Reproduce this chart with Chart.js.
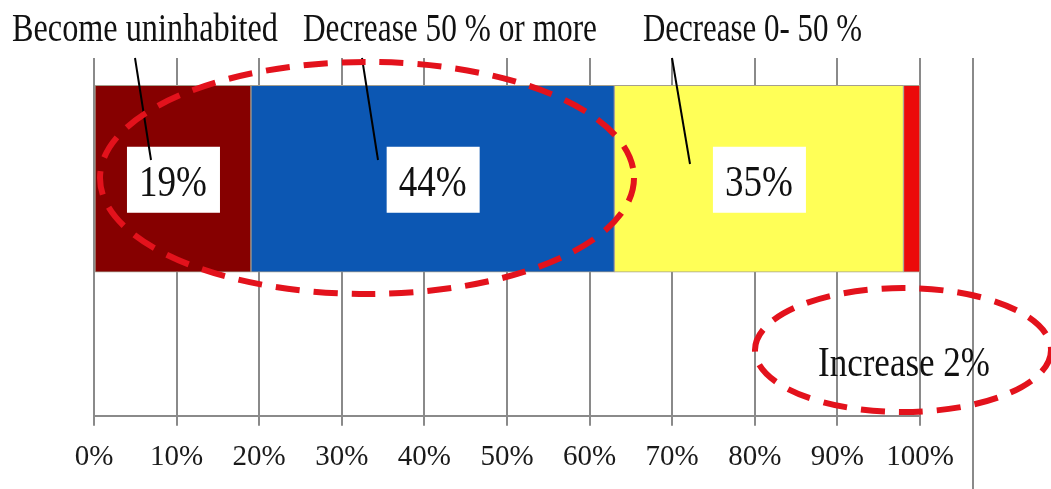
<!DOCTYPE html>
<html>
<head>
<meta charset="utf-8">
<script src="https://cdn.jsdelivr.net/npm/chart.js@4.4.1/dist/chart.umd.min.js"></script>
<style>
  html, body { margin: 0; padding: 0; background: #fff; }
  #wrap { width: 1051px; height: 489px; }
</style>
</head>
<body>
<div id="wrap"><canvas id="chart" width="1051" height="489"></canvas></div>
<script>
// ===== Data =====
const categories = ['Become uninhabited', 'Decrease 50 % or more', 'Decrease 0- 50 %', 'Increase'];
const shares = [19, 44, 35, 2];
const shareLabels = ['19%', '44%', '35%', ''];
const tickLabels = ['0%', '10%', '20%', '30%', '40%', '50%', '60%', '70%', '80%', '90%', '100%'];
const segmentColors = ['#860000', '#0c57b3', '#ffff57', '#ec0a0a'];

const SERIF = '"Liberation Serif", "DejaVu Serif", serif';
const RED = '#e3121c';

// callout text above the bar: left x, max width, leader line (top -> bottom)
const callouts = [
  { x: 12, w: 266, line: [135, 58, 151, 160] },
  { x: 303, w: 294, line: [362, 58, 378, 160] },
  { x: 643, w: 219, line: [672, 58, 690, 164] },
];

const decorPlugin = {
  id: 'decor',
  beforeDatasetsDraw(chart) {
    const { ctx, chartArea } = chart;
    // extra frame line right of the axis
    ctx.save();
    ctx.strokeStyle = '#8a8a8a';
    ctx.lineWidth = 2;
    ctx.beginPath();
    ctx.moveTo(973, chartArea.top);
    ctx.lineTo(973, chart.height);
    ctx.stroke();
    ctx.restore();
  },
  afterDatasetsDraw(chart) {
    const { ctx } = chart;
    ctx.save();

    // white boxes with percentages
    shares.forEach((v, i) => {
      if (!shareLabels[i]) return;
      const el = chart.getDatasetMeta(i).data[0];
      const { x, base, y } = el.getProps(['x', 'base', 'y'], true);
      const cx = (x + base) / 2;
      ctx.fillStyle = '#fff';
      ctx.fillRect(cx - 46, y - 32, 93, 66);
      ctx.fillStyle = '#111';
      ctx.font = '44px ' + SERIF;
      ctx.textAlign = 'center';
      ctx.textBaseline = 'alphabetic';
      ctx.fillText(shareLabels[i], cx, y + 17, 68);
    });

    // callout labels + leader lines
    ctx.textAlign = 'left';
    ctx.font = '40px ' + SERIF;
    callouts.forEach((c, i) => {
      ctx.fillStyle = '#111';
      ctx.fillText(categories[i], c.x, 41, c.w);
      ctx.strokeStyle = '#000';
      ctx.lineWidth = 2;
      ctx.beginPath();
      ctx.moveTo(c.line[0], c.line[1]);
      ctx.lineTo(c.line[2], c.line[3]);
      ctx.stroke();
    });

    // dashed ellipses
    ctx.strokeStyle = RED;
    ctx.lineWidth = 6;
    ctx.setLineDash([24, 14]);
    ctx.beginPath();
    ctx.ellipse(367, 178, 267, 116, 0, 0, Math.PI * 2);
    ctx.stroke();
    ctx.beginPath();
    ctx.ellipse(903, 350, 148, 62, 0, 0, Math.PI * 2);
    ctx.stroke();
    ctx.setLineDash([]);

    // increase label
    ctx.fillStyle = '#111';
    ctx.font = '42px ' + SERIF;
    ctx.textAlign = 'left';
    ctx.fillText(categories[3] + ' ' + shares[3] + '%', 818, 376, 172);

    ctx.restore();
  }
};

new Chart(document.getElementById('chart'), {
  type: 'bar',
  data: {
    datasets: shares.map((v, i) => ({
      label: categories[i],
      data: [{ x: v, y: 0 }],
      backgroundColor: segmentColors[i],
      borderColor: '#a59f8e',
      borderWidth: 1,
      borderSkipped: false,
      barThickness: 187,
    })),
  },
  options: {
    indexAxis: 'y',
    responsive: false,
    animation: false,
    layout: { padding: { left: 94, right: 131, top: 58, bottom: 0 } },
    plugins: { legend: { display: false }, tooltip: { enabled: false } },
    scales: {
      x: {
        type: 'linear',
        stacked: true,
        min: 0,
        max: 100,
        ticks: {
          stepSize: 10,
          color: '#1a1a1a',
          padding: 20,
          font: { family: SERIF, size: 29, lineHeight: 0.8 },
          callback: (v, i) => tickLabels[i],
        },
        grid: { color: '#8a8a8a', lineWidth: 2, tickLength: 10 },
        border: { color: '#8a8a8a', width: 2 },
      },
      y: {
        type: 'linear',
        stacked: true,
        offset: false,
        min: -0.6625,
        max: 0.3375,
        display: false,
      },
    },
  },
  plugins: [decorPlugin],
});
</script>
</body>
</html>
